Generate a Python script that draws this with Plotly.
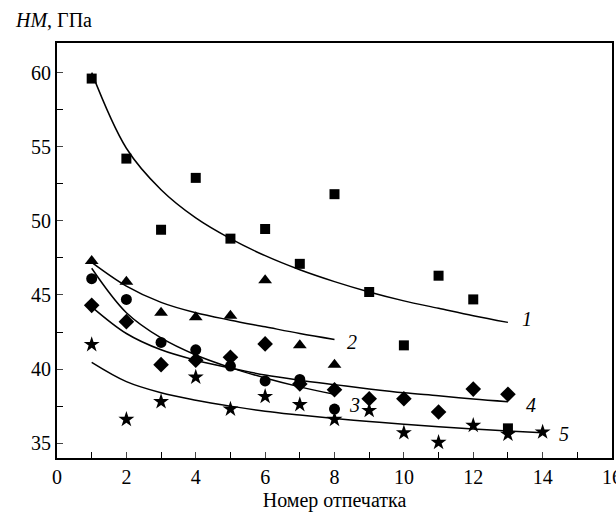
import plotly.graph_objects as go

x1 = [1, 2, 3, 4, 5, 6, 7, 8, 9, 10, 11, 12, 13]
y1 = [59.6, 54.2, 49.4, 52.9, 48.8, 49.45, 47.1, 51.8, 45.2, 41.6, 46.3, 44.7, 36.0]

x2 = [1, 2, 3, 4, 5, 6, 7, 8]
y2 = [47.3, 45.9, 43.8, 43.5, 43.6, 46.0, 41.6, 40.3]

x3 = [1, 2, 3, 4, 5, 6, 7, 8]
y3 = [46.1, 44.7, 41.8, 41.3, 40.2, 39.2, 39.3, 37.3]

x4 = [1, 2, 3, 4, 5, 6, 7, 8, 9, 10, 11, 12, 13]
y4 = [44.3, 43.2, 40.3, 40.6, 40.8, 41.7, 39.0, 38.6, 38.0, 38.0, 37.1, 38.65, 38.3]

x5 = [1, 2, 3, 4, 5, 6, 7, 8, 9, 10, 11, 12, 13, 14]
y5 = [41.65, 36.6, 37.8, 39.45, 37.3, 38.15, 37.6, 36.6, 37.2, 35.7, 35.05, 36.2, 35.6, 35.75]

# Fitted curves
cx1 = [1, 2, 3, 4, 5, 6, 7, 8, 9, 10, 11, 12, 13]
cy1 = [60.0, 54.9, 52.1, 50.2, 48.8, 47.65, 46.7, 45.9, 45.2, 44.6, 44.1, 43.6, 43.15]

cx2 = [1, 2, 3, 4, 5, 6, 7, 8]
cy2 = [47.2, 45.6, 44.5, 43.8, 43.3, 42.85, 42.4, 42.0]

cx3 = [1, 2, 3, 4, 5, 6, 7, 8]
cy3 = [46.8, 43.8, 42.1, 40.95, 40.1, 39.4, 38.8, 38.3]

cx4 = [1, 2, 3, 4, 5, 6, 7, 8, 9, 10, 11, 12, 13]
cy4 = [44.2, 42.4, 41.3, 40.6, 40.07, 39.6, 39.25, 38.95, 38.66, 38.4, 38.2, 37.98, 37.8]

cx5 = [1, 2, 3, 4, 5, 6, 7, 8, 9, 10, 11, 12, 13, 14]
cy5 = [40.45, 39.15, 38.4, 37.9, 37.5, 37.16, 36.9, 36.66, 36.46, 36.28, 36.11, 35.96, 35.83, 35.7]

curve_labels = ["1", "2", "3", "4", "5"]
label_x = [13.35, 8.3, 8.35, 13.45, 14.4]
label_y = [43.4, 41.8, 37.6, 37.6, 35.65]

FONT = "Liberation Serif"
fig = go.Figure()

curves = [(cx1, cy1), (cx2, cy2), (cx3, cy3), (cx4, cy4), (cx5, cy5)]
for cx, cy in curves:
    fig.add_trace(go.Scatter(x=cx, y=cy, mode="lines", line=dict(color="black", width=1.5, shape="spline"),
                             hoverinfo="skip", showlegend=False))

series = [
    (x1, y1, "square", 10),
    (x2, y2, "triangle-up", 12),
    (x3, y3, "circle", 11),
    (x4, y4, "diamond", 12),
    (x5, y5, "star", 12),
]
for xs, ys, sym, sz in series:
    fig.add_trace(go.Scatter(x=xs, y=ys, mode="markers",
                             marker=dict(symbol=sym, size=sz, color="black", line=dict(width=0)),
                             showlegend=False))

for t, lx, ly in zip(curve_labels, label_x, label_y):
    fig.add_annotation(x=lx, y=ly, text=f"<i>{t}</i>", showarrow=False, xanchor="left", yanchor="middle",
                       font=dict(family=FONT, size=20, color="black"))

fig.add_annotation(xref="paper", yref="paper", x=-0.079, y=1.055, text="<i>HM</i>, ГПа", showarrow=False,
                   xanchor="left", yanchor="middle", font=dict(family=FONT, size=20, color="black"))

fig.update_layout(
    width=616, height=515,
    margin=dict(l=57, r=4, t=43, b=57),
    paper_bgcolor="white", plot_bgcolor="white",
    font=dict(family=FONT, size=20, color="black"),
    xaxis=dict(range=[0, 16], tickmode="linear", tick0=0, dtick=2, ticks="inside", ticklen=6, tickwidth=1.2,
               showline=True, linecolor="black", linewidth=2, mirror=True, showgrid=False, zeroline=False,
               ticklabeloverflow="allow", automargin=False,
               minor=dict(ticks="inside", dtick=1, tick0=0, ticklen=6, tickwidth=1.2, tickcolor="black"),
               title=dict(text="Номер отпечатка", standoff=6, font=dict(family=FONT, size=20)),
               tickfont=dict(family=FONT, size=20)),
    yaxis=dict(range=[34, 62], tickmode="linear", tick0=35, dtick=5, ticks="inside", ticklen=6, tickwidth=1.2,
               showline=True, linecolor="black", linewidth=2, mirror=True, showgrid=False, zeroline=False,
               automargin=False,
               minor=dict(ticks="inside", dtick=2.5, tick0=35, ticklen=6, tickwidth=1.2, tickcolor="black"),
               tickfont=dict(family=FONT, size=20)),
)

# remove the default page margin so the 616x515 figure fills the window exactly
fig.write_html("out.html", config={"displayModeBar": False},
               post_script="document.body.style.margin='0';document.body.style.overflow='hidden';")
